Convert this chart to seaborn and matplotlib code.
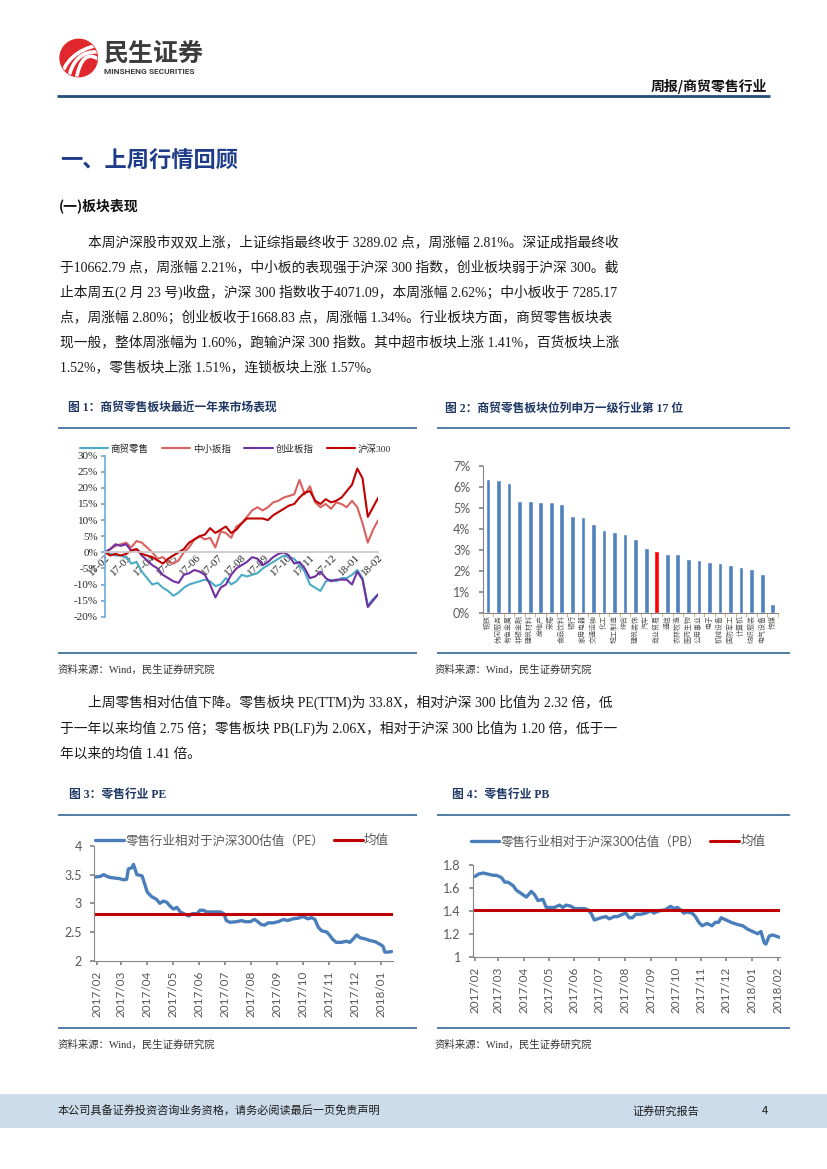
import numpy as np
import pandas as pd
import matplotlib
matplotlib.use('Agg')
import matplotlib.pyplot as plt
import matplotlib.dates as mdates
from matplotlib.patches import Circle, Rectangle, PathPatch
from matplotlib.path import Path
from matplotlib.ticker import FuncFormatter
import seaborn as sns

# ---------------- 数据 ----------------
# 图1：近一年市场表现（周度，%）
mkt_labels = ['17-02', '17-03', '17-04', '17-05', '17-06', '17-07', '17-08',
              '17-09', '17-10', '17-11', '17-12', '18-01', '18-02']
retail = [0, -0.5, -1, -1, -1.5, -3.5, -3, -6, -8, -10, -9.5, -11, -12, -13.5, -12.5,
          -11, -10, -9.5, -9, -8.5, -9, -10.5, -10, -8, -10, -9, -7, -7.5, -7, -6.5,
          -5, -4, -3, -2, -1, -1.5, -2, -4, -6, -10, -11, -12, -9, -8.5, -9, -8, -8,
          -7, -5.5, -8, -16.5, -14.5, -13]
zxb = [0, 1, 2, 2.5, 3, 1.5, 3.5, 3, 1.5, 0, -2, -1.5, -3, -3.5, -2.5, 0, 1.5, 4, 5,
       4, 4.5, 1.5, 6.5, 6, 4.5, 8, 9, 11, 13, 14, 13, 14, 15.5, 16, 17, 17.5, 18,
       22.5, 18, 20.5, 15.5, 14, 15, 13.5, 15.5, 15, 14, 16, 14, 9, 3, 7, 10]
cyb = [0, 1, 2.5, 2, 2.5, 0.5, 1, -1, -2.5, -4, -5, -7, -8, -9, -9.5, -7, -6.5, -5.5,
       -6, -7, -10, -14, -11, -10, -7, -5, -4, -3, -1.5, -2, -4, -3, -1.5, -0.5, 0,
       -1, -3.5, -3, -5, -8, -7.5, -6, -8, -9, -8.5, -8.5, -8.5, -10, -6, -8.5, -17,
       -15, -13]
hs300 = [0, -1, -0.5, -1, -0.5, 0.5, 1, -0.5, -1, -1.5, -2.5, -3.5, -2, -1, 0, 1, 3,
         4, 5, 5.5, 7.5, 6, 7, 8, 6, 7, 9, 10.5, 10.5, 10.5, 10.5, 10, 11.5, 12.5,
         13.5, 14.5, 15, 17, 18.5, 19, 16, 15, 16.5, 15.5, 16, 17, 19, 21, 26, 23, 11,
         14, 17]
mkt_names = ['商贸零售', '中小扳指', '创业板指', '沪深300']
mkt_colors = ['#4BACC6', '#D9625E', '#7030A0', '#C00000']

# 图2：申万一级行业周涨幅（%）
ind_names = ['钢铁', '休闲服务', '有色金属', '非银金融', '建筑材料', '房地产', '采掘',
             '食品饮料', '银行', '家用电器', '交通运输', '化工', '轻工制造', '综合',
             '建筑装饰', '汽车', '商业贸易', '通信', '农林牧渔', '医药生物', '公用事业',
             '电子', '机械设备', '国防军工', '计算机', '纺织服装', '电气设备', '传媒']
ind_values = [6.35, 6.32, 6.16, 5.33, 5.30, 5.25, 5.25, 5.16, 4.60, 4.56, 4.22, 3.95,
              3.83, 3.75, 3.49, 3.08, 2.95, 2.78, 2.78, 2.54, 2.51, 2.41, 2.37, 2.25,
              2.16, 2.08, 1.83, 0.43]
highlight = '商业贸易'

# 图3：零售行业相对沪深300 PE
pe_dates = ['2017-01-30', '2017-02-05', '2017-02-09', '2017-02-13', '2017-02-17',
            '2017-02-23', '2017-02-28', '2017-03-04', '2017-03-08', '2017-03-10',
            '2017-03-14', '2017-03-16', '2017-03-20', '2017-03-26', '2017-03-30',
            '2017-04-01', '2017-04-06', '2017-04-12', '2017-04-16', '2017-04-20',
            '2017-04-24', '2017-04-28', '2017-05-02', '2017-05-06', '2017-05-10',
            '2017-05-14', '2017-05-20', '2017-05-24', '2017-05-30', '2017-06-02',
            '2017-06-06', '2017-06-10', '2017-06-18', '2017-06-26', '2017-06-30',
            '2017-07-03', '2017-07-07', '2017-07-15', '2017-07-21', '2017-07-25',
            '2017-07-31', '2017-08-05', '2017-08-09', '2017-08-13', '2017-08-17',
            '2017-08-21', '2017-08-27', '2017-09-02', '2017-09-08', '2017-09-13',
            '2017-09-19', '2017-09-25', '2017-10-01', '2017-10-07', '2017-10-11',
            '2017-10-15', '2017-10-19', '2017-10-23', '2017-10-29', '2017-11-01',
            '2017-11-05', '2017-11-09', '2017-11-15', '2017-11-21', '2017-11-25',
            '2017-11-29', '2017-12-03', '2017-12-07', '2017-12-13', '2017-12-19',
            '2017-12-25', '2017-12-31', '2018-01-03', '2018-01-05', '2018-01-09',
            '2018-01-13']
pe_values = [3.46, 3.47, 3.50, 3.47, 3.45, 3.44, 3.43, 3.41, 3.42, 3.60, 3.62, 3.68,
             3.50, 3.48, 3.30, 3.20, 3.12, 3.07, 3.00, 3.04, 3.02, 2.95, 2.90, 2.93,
             2.85, 2.82, 2.78, 2.82, 2.82, 2.88, 2.88, 2.85, 2.85, 2.85, 2.82, 2.70,
             2.67, 2.68, 2.70, 2.68, 2.68, 2.72, 2.68, 2.63, 2.62, 2.66, 2.66, 2.68,
             2.72, 2.70, 2.73, 2.74, 2.77, 2.73, 2.75, 2.72, 2.58, 2.52, 2.50, 2.45,
             2.37, 2.32, 2.32, 2.34, 2.32, 2.38, 2.45, 2.40, 2.38, 2.35, 2.33, 2.28,
             2.25, 2.15, 2.15, 2.16]
pe_mean = 2.81

# 图4：零售行业相对沪深300 PB
pb_dates = ['2017-02-01', '2017-02-05', '2017-02-11', '2017-02-17', '2017-02-23',
            '2017-02-27', '2017-03-05', '2017-03-09', '2017-03-13', '2017-03-19',
            '2017-03-23', '2017-03-29', '2017-04-04', '2017-04-10', '2017-04-14',
            '2017-04-18', '2017-04-24', '2017-04-28', '2017-05-02', '2017-05-08',
            '2017-05-14', '2017-05-18', '2017-05-22', '2017-05-28', '2017-06-01',
            '2017-06-07', '2017-06-13', '2017-06-17', '2017-06-21', '2017-06-25',
            '2017-06-29', '2017-07-03', '2017-07-09', '2017-07-13', '2017-07-19',
            '2017-07-23', '2017-07-29', '2017-08-02', '2017-08-06', '2017-08-10',
            '2017-08-14', '2017-08-20', '2017-08-26', '2017-09-01', '2017-09-05',
            '2017-09-11', '2017-09-19', '2017-09-25', '2017-09-29', '2017-10-03',
            '2017-10-07', '2017-10-11', '2017-10-15', '2017-10-21', '2017-10-25',
            '2017-10-29', '2017-11-02', '2017-11-08', '2017-11-14', '2017-11-18',
            '2017-11-22', '2017-11-25', '2017-12-01', '2017-12-07', '2017-12-15',
            '2017-12-21', '2017-12-27', '2018-01-02', '2018-01-08', '2018-01-12',
            '2018-01-16', '2018-01-18', '2018-01-22', '2018-01-26', '2018-01-30',
            '2018-02-03']
pb_values = [1.70, 1.72, 1.73, 1.72, 1.71, 1.71, 1.69, 1.65, 1.65, 1.62,
             1.58, 1.55, 1.52, 1.57, 1.54, 1.49, 1.50, 1.43, 1.43, 1.43,
             1.45, 1.43, 1.45, 1.44, 1.42, 1.42, 1.42, 1.41, 1.38, 1.32,
             1.33, 1.34, 1.35, 1.33, 1.35, 1.35, 1.37, 1.38, 1.34, 1.34,
             1.37, 1.37, 1.38, 1.40, 1.38, 1.40, 1.41, 1.44, 1.42, 1.43,
             1.41, 1.38, 1.39, 1.38, 1.35, 1.30, 1.27, 1.29, 1.27, 1.30,
             1.30, 1.34, 1.32, 1.30, 1.28, 1.27, 1.24, 1.22, 1.20, 1.22,
             1.12, 1.11, 1.18, 1.19, 1.18, 1.17]
pb_mean = 1.41

para1 = [
    '本周沪深股市双双上涨，上证综指最终收于 3289.02 点，周涨幅 2.81%。深证成指最终收',
    '于10662.79 点，周涨幅 2.21%，中小板的表现强于沪深 300 指数，创业板块弱于沪深 300。截',
    '止本周五(2 月 23 号)收盘，沪深 300 指数收于4071.09，本周涨幅 2.62%；中小板收于 7285.17',
    '点，周涨幅 2.80%；创业板收于1668.83 点，周涨幅 1.34%。行业板块方面，商贸零售板块表',
    '现一般，整体周涨幅为 1.60%，跑输沪深 300 指数。其中超市板块上涨 1.41%，百货板块上涨',
    '1.52%，零售板块上涨 1.51%，连锁板块上涨 1.57%。',
]
para2 = [
    '上周零售相对估值下降。零售板块 PE(TTM)为 33.8X，相对沪深 300 比值为 2.32 倍，低',
    '于一年以来均值 2.75 倍；零售板块 PB(LF)为 2.06X，相对于沪深 300 比值为 1.20 倍，低于一',
    '年以来的均值 1.41 倍。',
]

# ---------------- 样式 ----------------
W, H = 827, 1169
sns.set_theme(style='white')
plt.rcParams['font.family'] = ['Noto Sans CJK SC', 'DejaVu Sans']
plt.rcParams['axes.unicode_minus'] = False

SERIF = ['Liberation Serif', 'Noto Sans CJK SC']
SANS = ['Lato', 'Noto Sans CJK SC']
CJK = ['Noto Sans CJK SC', 'DejaVu Sans']
NAVY = '#1F3864'
RULE = '#41719C'
GRAY = '#595959'

fig = plt.figure(figsize=(8.27, 11.69), dpi=100)
page = fig.add_axes([0, 0, 1, 1])
page.set_xlim(0, W)
page.set_ylim(H, 0)
page.axis('off')


def rect(l, t, r, b):
    return [l / W, 1 - b / H, (r - l) / W, (b - t) / H]


def put(x, y, s, size, family=CJK, **kw):
    page.text(x, y, s, fontsize=size, family=family, va='center', **kw)


# ---------------- 页眉 ----------------
logo = Circle((78.7, 58), 18.7, color='#E1262D')
page.add_patch(logo)
for k in range(3):
    verts = [(60 + 8 * k, 80), (66 + 8 * k, 52 - 2 * k), (98, 45 + 7 * k)]
    stripe = PathPatch(Path(verts, [Path.MOVETO, Path.CURVE3, Path.CURVE3]),
                       fill=False, ec='white', lw=2.6, capstyle='round')
    page.add_patch(stripe)
    stripe.set_clip_path(logo)
put(104, 53.5, '民生证券', 18, weight='bold', color='#3C3C3C')
put(104.5, 71, 'MINSHENG SECURITIES', 6, family=['Roboto', 'DejaVu Sans'],
    weight='bold', color='#3C3C3C')
put(767, 87, '周报/商贸零售行业', 10, weight='bold', color='#111111', ha='right')
page.plot([57, 770], [96, 96], color='#1F4E79', lw=2.0, solid_capstyle='butt')

put(60, 161, '一、上周行情回顾', 16, weight='bold', color='#1F3C88')
put(59, 206, '(一)板块表现', 10, weight='bold', color='#111111')

for i, line in enumerate(para1):
    put(88 if i == 0 else 60, 242.7 + 25 * i, line, 9.9, family=SERIF, color='#1A1A1A')
for i, line in enumerate(para2):
    put(88 if i == 0 else 60, 702 + 26 * i, line, 9.9, family=SERIF, color='#1A1A1A')

# 图表标题、分隔线、资料来源
put(68, 409, '图 1：商贸零售板块最近一年来市场表现', 8.5, family=SERIF, weight='bold', color=NAVY)
put(445, 409, '图 2：商贸零售板块位列申万一级行业第 17 位', 8.5, family=SERIF, weight='bold', color=NAVY)
put(68.7, 795, '图 3：零售行业 PE', 8.5, family=SERIF, weight='bold', color=NAVY)
put(451.5, 795, '图 4：零售行业 PB', 8.5, family=SERIF, weight='bold', color=NAVY)
for y in [428, 652.5, 814.5, 1028]:
    page.plot([58, 417], [y, y], color=RULE, lw=1.3, solid_capstyle='butt')
    page.plot([437, 790], [y, y], color=RULE, lw=1.3, solid_capstyle='butt')
for y in [670, 1045]:
    put(58, y, '资料来源：Wind，民生证券研究院', 7.5, family=SERIF, color='#333333')
    put(435, y, '资料来源：Wind，民生证券研究院', 7.5, family=SERIF, color='#333333')

# 页脚
page.add_patch(Rectangle((0, 1094), W, 34, color='#CCDCEA', lw=0))
put(58, 1111.5, '本公司具备证券投资咨询业务资格，请务必阅读最后一页免责声明', 8, color='#1A1A1A')
put(632, 1111.5, '证券研究报告', 8, color='#1A1A1A')
put(765, 1111.5, '4', 8, color='#1A1A1A', ha='center')

# ---------------- 图1 ----------------
ax1 = fig.add_axes(rect(105, 455.7, 378.3, 616.7))
ax1.patch.set_alpha(0)
weeks = np.arange(len(hs300))
for name, vals, c in zip(mkt_names, [retail, zxb, cyb, hs300], mkt_colors):
    sns.lineplot(x=weeks, y=vals, color=c, lw=1.5, ax=ax1, label=name, legend=False)
ax1.set_xlim(0, len(hs300) - 1)
ax1.set_ylim(-20, 30)
ax1.set_yticks(range(-20, 31, 5))
ax1.yaxis.set_major_formatter(FuncFormatter(lambda v, p: f'{v:.0f}%'))
ax1.spines['bottom'].set_position(('data', 0))
ax1.spines['bottom'].set_color('#C8C8C8')
ax1.spines['left'].set_color('#6FA8DC')
ax1.spines['left'].set_linewidth(1.2)
for s in ['top', 'right']:
    ax1.spines[s].set_visible(False)
ax1.tick_params(axis='x', length=0, pad=0)
ax1.tick_params(axis='y', left=True, length=3, color='#6FA8DC', pad=2,
                labelsize=8, labelfontfamily=SERIF)
ax1.set_xticks(np.linspace(0, len(hs300) - 1, len(mkt_labels)))
ax1.set_xticklabels(mkt_labels, rotation=45, ha='right', rotation_mode='anchor',
                    fontsize=8, family=SERIF)
ax1.set_xlabel('')
ax1.set_ylabel('')
ax1.legend(loc='center', bbox_to_anchor=(235.5, 449), bbox_transform=page.transData,
           ncol=4, frameon=False, prop={'family': SERIF, 'size': 6.8},
           handlelength=3.0, handletextpad=0.3, columnspacing=1.4, borderaxespad=0)

# ---------------- 图2 ----------------
ax2 = fig.add_axes(rect(482.7, 465.7, 778, 612.7))
ax2.patch.set_alpha(0)
bar_colors = {n: ('#FF0000' if n == highlight else '#4F81BD') for n in ind_names}
sns.barplot(x=ind_names, y=ind_values, hue=ind_names, palette=bar_colors,
            saturation=1, width=0.45, dodge=False, legend=False, ax=ax2)
ax2.set_xlim(-0.5, len(ind_names) - 0.5)
ax2.set_ylim(0, 7)
ax2.set_yticks(range(0, 8))
ax2.yaxis.set_major_formatter(FuncFormatter(lambda v, p: f'{v:.0f}%'))
ax2.tick_params(axis='x', rotation=90, length=0, pad=2, labelsize=5, labelcolor=GRAY)
ax2.set_xticks(np.arange(-0.5, len(ind_names), 1), minor=True)
ax2.tick_params(axis='x', which='minor', bottom=True, length=3, color='#D9A65B', width=0.6)
ax2.tick_params(axis='y', left=True, length=3, color='#868686', pad=6,
                labelsize=9, labelcolor=GRAY, labelfontfamily=SANS)
for s in ['top', 'right']:
    ax2.spines[s].set_visible(False)
for s in ['left', 'bottom']:
    ax2.spines[s].set_color('#868686')
    ax2.spines[s].set_linewidth(0.8)
ax2.set_xlabel('')
ax2.set_ylabel('')


# ---------------- 图3 / 图4 ----------------
def valuation(ax, dates, values, mean, label, xlim, yticks, leg_xy):
    ax.patch.set_alpha(0)
    sns.lineplot(x=pd.to_datetime(dates), y=values, color='#4A7EBB', lw=2.4,
                 ax=ax, label=label, legend=False)
    ax.axhline(mean, color='#C00000', lw=2.2, label='均值')
    ax.set_xlim(pd.Timestamp(xlim[0]), pd.Timestamp(xlim[1]))
    ax.set_ylim(yticks[0], yticks[-1])
    ax.set_yticks(yticks)
    ax.yaxis.set_major_formatter(FuncFormatter(lambda v, p: f'{v:g}'))
    ax.xaxis.set_major_locator(mdates.MonthLocator())
    ax.xaxis.set_major_formatter(mdates.DateFormatter('%Y/%m'))
    ax.tick_params(axis='x', rotation=90, bottom=True, length=3, color='#868686',
                   pad=4, labelsize=8.5, labelcolor=GRAY, labelfontfamily=SANS)
    ax.tick_params(axis='y', left=True, length=3, color='#868686', pad=6,
                   labelsize=9, labelcolor=GRAY, labelfontfamily=SANS)
    for s in ['top', 'right']:
        ax.spines[s].set_visible(False)
    for s in ['left', 'bottom']:
        ax.spines[s].set_color('#868686')
        ax.spines[s].set_linewidth(0.8)
    ax.set_xlabel('')
    ax.set_ylabel('')
    ax.legend(loc='center', bbox_to_anchor=leg_xy, bbox_transform=page.transData,
              ncol=2, frameon=False, prop={'family': SANS, 'size': 9},
              labelcolor=GRAY, handlelength=2.3, handletextpad=0.1,
              columnspacing=0.8, borderaxespad=0)


ax3 = fig.add_axes(rect(94.3, 846, 393.3, 960.7))
valuation(ax3, pe_dates, pe_values, pe_mean, '零售行业相对于沪深300估值（PE）',
          ('2017-01-29', '2018-01-15'), [2, 2.5, 3, 3.5, 4], (242, 840))

ax4 = fig.add_axes(rect(473.3, 865, 780, 956.7))
valuation(ax4, pb_dates, pb_values, pb_mean, '零售行业相对于沪深300估值（PB）',
          ('2017-01-30', '2018-02-04'), [1, 1.2, 1.4, 1.6, 1.8], (618, 841))

fig.savefig('out.png', dpi=100)
